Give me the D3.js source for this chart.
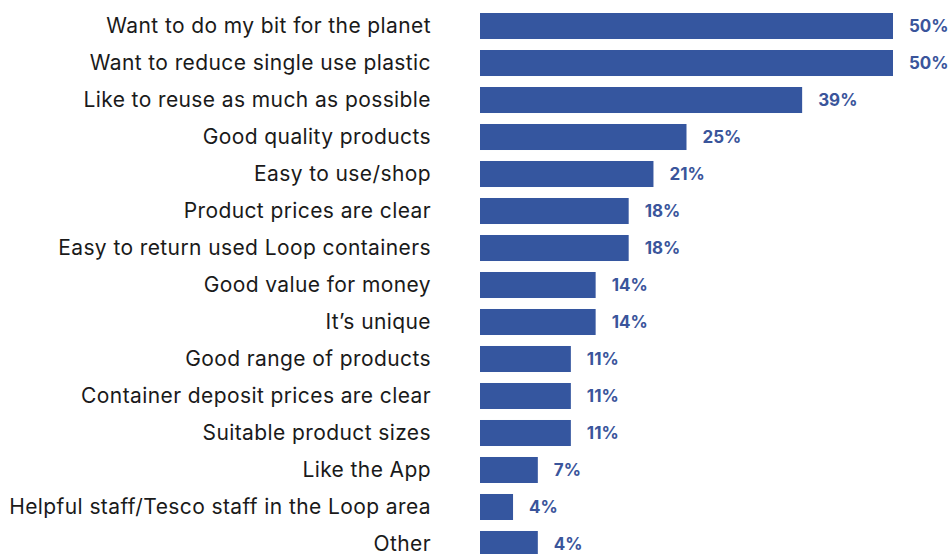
<!DOCTYPE html>
<html>
<head>
<meta charset="utf-8">
<script src="https://cdn.jsdelivr.net/npm/d3@7"></script>
<style>
    html, body { margin: 0; padding: 0; background: #fff; overflow: hidden; }
    svg { display: block; }
</style>
</head>
<body>
<div id="chart"></div>
<script>
// Reasons (top to bottom)
const categories = [
    'Want to do my bit for the planet',
    'Want to reduce single use plastic',
    'Like to reuse as much as possible',
    'Good quality products',
    'Easy to use/shop',
    'Product prices are clear',
    'Easy to return used Loop containers',
    'Good value for money',
    'It\u2019s unique',
    'Good range of products',
    'Container deposit prices are clear',
    'Suitable product sizes',
    'Like the App',
    'Helpful staff/Tesco staff in the Loop area',
    'Other'
];

// Bar lengths as drawn (Other's bar is drawn at the 7% length in the picture)
const barValues = [50, 50, 39, 25, 21, 18, 18, 14, 14, 11, 11, 11, 7, 4, 7];

// Printed value labels
const valueLabels = ['50%', '50%', '39%', '25%', '21%', '18%', '18%', '14%', '14%', '11%', '11%', '11%', '7%', '4%', '4%'];

const width = 951;
const height = 554;
const barColor = '#35569f';
const valueColor = '#3a559b';

const data = categories.map((c, i) => ({ name: c, value: barValues[i], label: valueLabels[i] }));

const svg = d3.select('#chart')
    .append('svg')
    .attr('width', width)
    .attr('height', height);

const x = d3.scaleLinear()
    .domain([0, 50])
    .range([480, 893]);

const y = d3.scaleBand()
    .domain(categories)
    .range([13, 557])
    .paddingInner(0.297)
    .paddingOuter(0);

// Bars
svg.append('g')
    .selectAll('rect')
    .data(data)
    .join('rect')
    .attr('x', x(0))
    .attr('y', d => y(d.name))
    .attr('width', d => x(d.value) - x(0))
    .attr('height', y.bandwidth())
    .attr('fill', barColor);

// Category labels
svg.append('g')
    .selectAll('text')
    .data(data)
    .join('text')
    .attr('x', 431)
    .attr('y', d => y(d.name) + y.bandwidth() / 2)
    .attr('dy', '0.34em')
    .attr('text-anchor', 'end')
    .attr('font-family', 'Inter, "Noto Sans", sans-serif')
    .attr('font-size', '21px')
    .attr('letter-spacing', '0.4px')
    .attr('fill', '#1a1a1a')
    .text(d => d.name);

// Value labels
svg.append('g')
    .selectAll('text')
    .data(data)
    .join('text')
    .attr('x', d => x(d.value) + 16)
    .attr('y', d => y(d.name) + y.bandwidth() / 2)
    .attr('dy', '0.35em')
    .attr('font-family', 'Inter, "Noto Sans", sans-serif')
    .attr('font-size', '17px')
    .attr('font-weight', '700')
    .attr('fill', valueColor)
    .text(d => d.label);
</script>
</body>
</html>
